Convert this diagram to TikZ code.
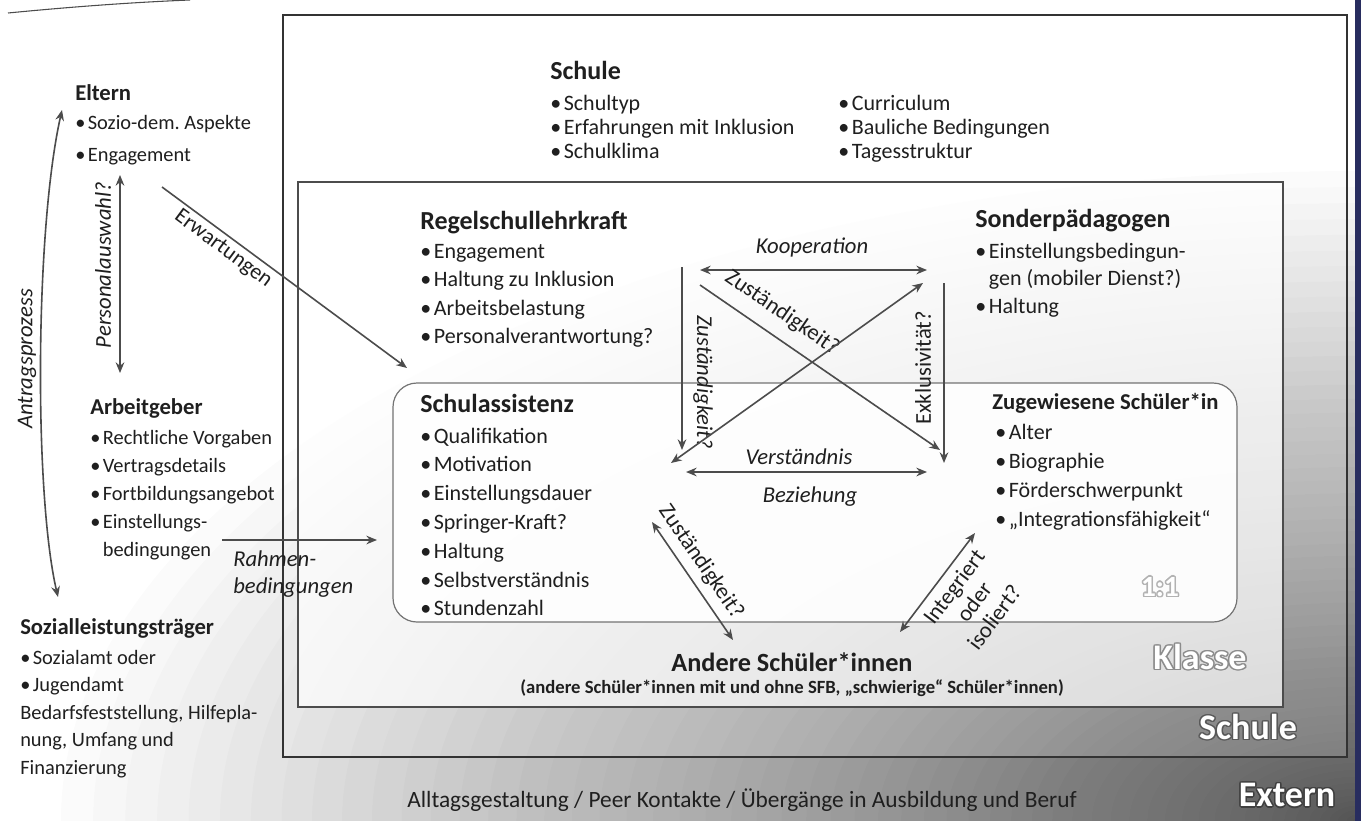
\documentclass[tikz,border=0pt]{standalone}
\usepackage{fontspec}
\setmainfont{Carlito}
\usetikzlibrary{arrows.meta}
\definecolor{navy}{RGB}{40,45,95}
\newcommand\bul{•\hspace{0.12em}}
\newcommand\bulsp{\phantom{\bul}}
\newcommand\blist[6][itm]{\foreach \t [count=\i] in {#6}{\node[#1] (#2\i) at (#3,{#4+(\i-1)*#5}) {\t};}}
\newcommand\ghost[5]{%
  \foreach \a in {0,30,...,330}{\node[inner sep=0,font=#3,text=#4] (#1-\a) at ([shift={(\a:1.1pt)}]#2) {#5};}
  \node[inner sep=0,font=#3,text=white] (#1) at (#2) {#5};}
\begin{document}
\begin{tikzpicture}[x=0.75pt,y=-0.75pt,
  txt/.style={inner sep=0, text=black!88},
  itm/.style={txt, anchor=base west, font=\fontsize{15.3}{18}\selectfont},
  itmi/.style={txt, anchor=base west, font=\fontsize{16.5}{19}\selectfont},
  ttl/.style={txt, anchor=base west, font=\bfseries\fontsize{17}{20}\selectfont},
  ttli/.style={txt, anchor=base west, font=\bfseries\fontsize{19.5}{22}\selectfont},
  lab/.style={txt, font=\itshape\fontsize{17}{19}\selectfont},
  labu/.style={txt, font=\fontsize{17}{19}\selectfont},
  arr/.style={draw=black!70, line width=1.2pt, -{Stealth[length=8pt,width=6.5pt]}},
  darr/.style={draw=black!70, line width=1.2pt, {Stealth[length=8pt,width=6.5pt]}-{Stealth[length=8pt,width=6.5pt]}},
]
\useasboundingbox (0,0) rectangle (1361,821);
% background glow towards the lower right corner
\fill[white] (0,0) rectangle (1361,821);
\begin{scope}
  \clip (0,0) rectangle (1361,821);
  \foreach \k in {1,...,60}{%
    \pgfmathsetmacro\s{(\k/60)^1.5*975}
    \fill[black, opacity=0.0155, shift={(1361,821)}, yscale=0.5] (0,0) circle [radius=\s pt];}
\end{scope}
\fill[navy] (1355,0) rectangle (1361,821);
\draw[black!70, line width=0.8pt] (8,13) .. controls (80,6) and (140,2) .. (190,0);
% boxes
\fill[white, opacity=0.15] (283,15) rectangle (1347,757);
\draw[black!80, line width=1.3pt] (283,15) rectangle (1347,757);
\fill[white, opacity=0.7] (298,182) rectangle (1283,707);
\draw[black!70, line width=0.9pt] (298,182) rectangle (1283,707);
\fill[white, opacity=0.9, rounded corners=18pt] (393,383) rectangle (1237,622);
\draw[black!55, line width=0.9pt, rounded corners=18pt] (393,383) rectangle (1237,622);
% area labels
\ghost{lab11}{1160,587}{\bfseries\fontsize{22}{24}\selectfont}{black!30}{1:1}
\ghost{labklasse}{1200,657}{\bfseries\fontsize{27}{30}\selectfont}{black!45}{Klasse}
\ghost{labschule}{1248,727}{\bfseries\fontsize{27}{30}\selectfont}{black!65}{Schule}
\ghost{labextern}{1287,795}{\bfseries\fontsize{27}{30}\selectfont}{black!75}{Extern}
% Schule
\node[ttli] (schule) at (550,79) {Schule};
\blist[itmi]{sl}{550}{110}{24}{{\bul Schultyp},{\bul Erfahrungen mit Inklusion},{\bul Schulklima}}
\blist[itmi]{sr}{838}{110}{24}{{\bul Curriculum},{\bul Bauliche Bedingungen},{\bul Tagesstruktur}}
% Eltern
\node[ttl] (eltern) at (75,100) {Eltern};
\blist{el}{75}{129}{32}{{\bul Sozio-dem.\ Aspekte},{\bul Engagement}}
% Arbeitgeber
\node[ttl] (ag) at (90,414) {Arbeitgeber};
\blist{ag}{90}{444}{28}{{\bul Rechtliche Vorgaben},{\bul Vertragsdetails},{\bul Fortbildungsangebot},{\bul Einstellungs-},{\bulsp bedingungen}}
% Sozialleistungstraeger
\node[ttl] (slt) at (20,634) {Sozialleistungsträger};
\blist{sz}{20}{664}{27.5}{{\bul Sozialamt oder},{\bul Jugendamt},{Bedarfsfeststellung, Hilfepla-},{nung, Umfang und},{Finanzierung}}
% Regelschullehrkraft
\node[ttli] (rl) at (420,229) {Regelschullehrkraft};
\blist[itmi]{rl}{420}{258}{28.5}{{\bul Engagement},{\bul Haltung zu Inklusion},{\bul Arbeitsbelastung},{\bul Personalverantwortung?}}
% Sonderpaedagogen
\node[ttli] (sp) at (975,227) {Sonderpädagogen};
\blist[itmi]{sp}{975}{258}{27.5}{{\bul Einstellungsbedingun-},{\bulsp gen (mobiler Dienst?)},{\bul Haltung}}
% Schulassistenz
\node[ttli] (sa) at (420,412) {Schulassistenz};
\blist[itmi]{sa}{420}{443}{28.8}{{\bul Qualifikation},{\bul Motivation},{\bul Einstellungsdauer},{\bul Springer-Kraft?},{\bul Haltung},{\bul Selbstverständnis},{\bul Stundenzahl}}
% Zugewiesene
\node[ttl] (zs) at (992,409) {Zugewiesene Schüler*in};
\blist[itmi]{zs}{995}{439}{29}{{\bul Alter},{\bul Biographie},{\bul Förderschwerpunkt},{\bul „Integrationsfähigkeit“}}
% Andere
\node[txt, font=\bfseries\fontsize{19.7}{22}\selectfont] (andere) at (792,662) {Andere Schüler*innen};
\node[txt, font=\bfseries\fontsize{14}{16}\selectfont] (anderesub) at (792,688) {(andere Schüler*innen mit und ohne SFB, „schwierige“ Schüler*innen)};
\node[txt, font=\fontsize{17.5}{20}\selectfont] (alltag) at (742,800) {Alltagsgestaltung / Peer Kontakte / Übergänge in Ausbildung und Beruf};
% connectors left
\coordinate (pa1) at (120,175); \coordinate (pa2) at (120,373);
\draw[darr] (pa1) -- (pa2);
\node[lab, rotate=90] (pal) at (103,265) {Personalauswahl?};
\coordinate (an1) at (62,110); \coordinate (an2) at (58,597);
\draw[darr] (an1) .. controls (35,230) and (34,494) .. (an2);
\node[lab, rotate=90] (anl) at (27,359) {Antragsprozess};
\coordinate (ew1) at (162,187); \coordinate (ew2) at (407,368);
\draw[arr] (ew1) -- (ew2);
\node[labu, rotate=-36.5, font=\fontsize{16.5}{19}\selectfont] (ewl) at (223,249) {Erwartungen};
\coordinate (rb1) at (222,540); \coordinate (rb2) at (377,540);
\draw[arr] (rb1) -- (rb2);
\node[lab, anchor=base west] (rbl1) at (233,566) {Rahmen-};
\node[lab, anchor=base west] (rbl2) at (233,593) {bedingungen};
% centre cross
\node[lab] (koop) at (812,247) {Kooperation};
\coordinate (ko1) at (700,270); \coordinate (ko2) at (927,270);
\draw[darr] (ko1) -- (ko2);
\coordinate (zv1) at (682,267); \coordinate (zv2) at (682,450);
\draw[arr] (zv1) -- (zv2);
\node[lab, rotate=-90] (zvl) at (703,382) {Zuständigkeit?};
\coordinate (ex1) at (944,283); \coordinate (ex2) at (944,463);
\draw[arr] (ex1) -- (ex2);
\node[labu, rotate=90] (exl) at (923,368) {Exklusivität?};
\coordinate (d1a) at (700,285); \coordinate (d1b) at (940,450);
\draw[arr] (d1a) -- (d1b);
\node[labu, rotate=-34.5] (d1l) at (782,313) {Zuständigkeit?};
\coordinate (d2a) at (671,463); \coordinate (d2b) at (923,283);
\draw[darr] (d2a) -- (d2b);
\node[lab] (verst) at (799,457) {Verständnis};
\coordinate (ve1) at (686,472); \coordinate (ve2) at (927,472);
\draw[darr] (ve1) -- (ve2);
\node[lab] (bez) at (810,497) {Beziehung};
% bottom
\coordinate (zb1) at (652,522); \coordinate (zb2) at (733,640);
\draw[darr] (zb1) -- (zb2);
\node[labu, rotate=-55.5] (zbl) at (701,562) {Zuständigkeit?};
\coordinate (ig1) at (900,632); \coordinate (ig2) at (975,533);
\draw[darr] (ig1) -- (ig2);
\node[labu, rotate=53, align=center] (igl) at (974,602) {Integriert\\oder\\isoliert?};
\end{tikzpicture}
\end{document}
